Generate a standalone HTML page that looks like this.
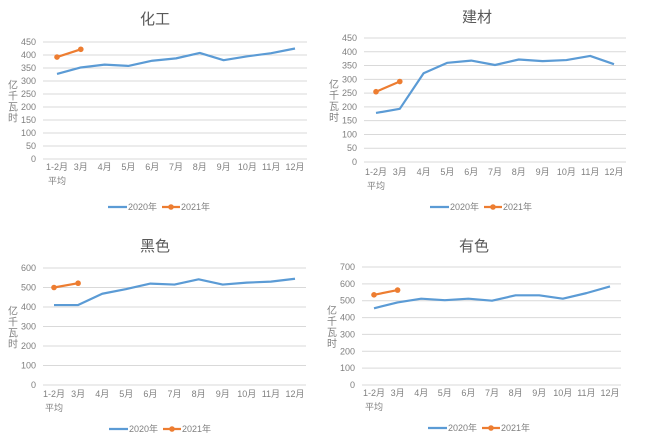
<!DOCTYPE html>
<html><head><meta charset="utf-8"><style>
html,body{margin:0;padding:0;background:#fff;}
svg{display:block;font-family:"Liberation Sans","Noto Sans CJK SC",sans-serif;}
</style></head><body>
<svg id="s" width="648" height="442" viewBox="0 0 648 442" xmlns="http://www.w3.org/2000/svg"></svg>
<script>
var charts=[
{t:"化工",tx:155,ty:24,L:43,R:307,yTop:42,y0:159,max:450,step:50,c0:57,c12:295,lab:170,leg:207,lx:108,
 a:[327,352,363,358,378,387,408,380,395,407,425],b:[392,422]},
{t:"建材",tx:477,ty:22,L:364,R:626,yTop:38,y0:162,max:450,step:50,c0:376,c12:614,lab:175,leg:207,lx:430,
 a:[178,193,322,360,368,352,372,366,370,385,355],b:[255,292]},
{t:"黑色",tx:155,ty:251,L:43,R:306,yTop:268,y0:385,max:600,step:100,c0:54,c12:295,lab:397,leg:429,lx:109,
 a:[410,410,468,492,520,515,542,515,525,530,545],b:[500,522]},
{t:"有色",tx:474,ty:251,L:362,R:621,yTop:267,y0:385,max:700,step:100,c0:374,c12:610,lab:396,leg:428,lx:428,
 a:[455,490,512,503,512,500,532,532,512,545,585],b:[535,563]}];
var cats=["1-2月","3月","4月","5月","6月","7月","8月","9月","10月","11月","12月"];
var h="";
charts.forEach(function(c){
 var Y=function(v){return c.y0-(c.y0-c.yTop)*v/c.max;};
 var X=function(i){return c.c0+(c.c12-c.c0)*i/10;};
 h+='<text x="'+c.tx+'" y="'+c.ty+'" font-size="15" fill="#595959" text-anchor="middle">'+c.t+'</text>';
 for(var v=0;v<=c.max;v+=c.step){var y=Y(v);
  h+='<line x1="'+c.L+'" x2="'+c.R+'" y1="'+y+'" y2="'+y+'" stroke="#d9d9d9" stroke-width="1"/>';
  h+='<text x="'+(c.L-7)+'" y="'+(y+3)+'" font-size="9" fill="#7f7f7f" text-anchor="end">'+v+'</text>';}
 cats.forEach(function(s,i){h+='<text x="'+X(i)+'" y="'+c.lab+'" font-size="9" fill="#7f7f7f" text-anchor="middle">'+s+'</text>';});
 h+='<text x="'+X(0)+'" y="'+(c.lab+14)+'" font-size="9" fill="#7f7f7f" text-anchor="middle">平均</text>';
 var ax=c.L-30, ay=(c.yTop+c.y0)/2-12;
 ["亿","千","瓦","时"].forEach(function(ch,k){h+='<text x="'+ax+'" y="'+(ay+k*11)+'" font-size="10" fill="#7f7f7f" text-anchor="middle">'+ch+'</text>';});
 h+='<polyline fill="none" stroke="#5b9bd5" stroke-width="2.2" stroke-linejoin="round" points="'+c.a.map(function(v,i){return X(i)+","+Y(v);}).join(" ")+'"/>';
 h+='<polyline fill="none" stroke="#ed7d31" stroke-width="2.2" points="'+c.b.map(function(v,i){return X(i)+","+Y(v);}).join(" ")+'"/>';
 c.b.forEach(function(v,i){h+='<circle cx="'+X(i)+'" cy="'+Y(v)+'" r="2.8" fill="#ed7d31"/>';});
 var lx=c.lx,ly=c.leg;
 h+='<line x1="'+lx+'" x2="'+(lx+19)+'" y1="'+ly+'" y2="'+ly+'" stroke="#5b9bd5" stroke-width="2.2"/>';
 h+='<text x="'+(lx+20)+'" y="'+(ly+3)+'" font-size="9" fill="#7f7f7f">2020年</text>';
 h+='<line x1="'+(lx+54)+'" x2="'+(lx+72)+'" y1="'+ly+'" y2="'+ly+'" stroke="#ed7d31" stroke-width="2.2"/>';
 h+='<circle cx="'+(lx+63)+'" cy="'+ly+'" r="2.8" fill="#ed7d31"/>';
 h+='<text x="'+(lx+73)+'" y="'+(ly+3)+'" font-size="9" fill="#7f7f7f">2021年</text>';
});
document.getElementById("s").innerHTML=h;
</script>
</body></html>
